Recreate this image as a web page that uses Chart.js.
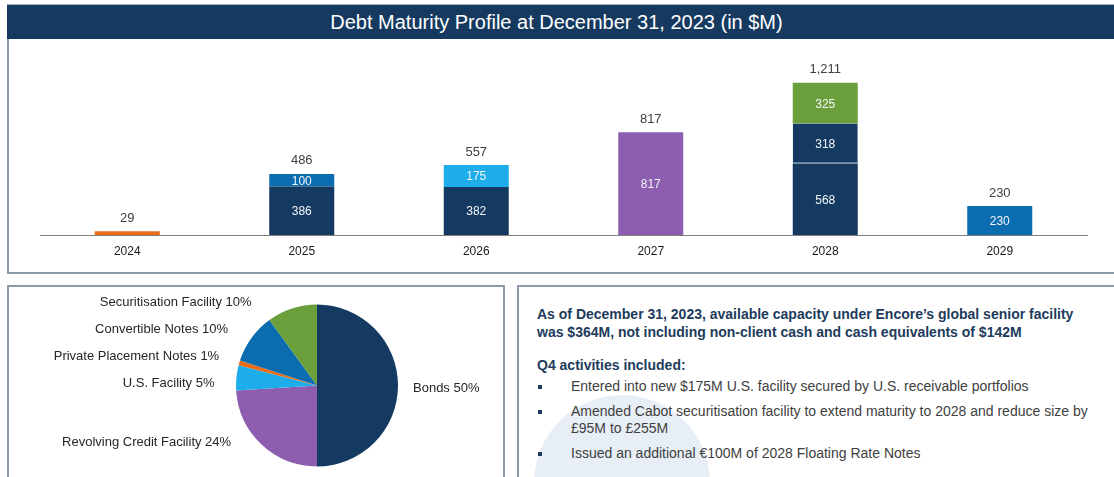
<!DOCTYPE html>
<html>
<head>
<meta charset="utf-8">
<script src="https://cdn.jsdelivr.net/npm/chart.js@4.4.1/dist/chart.umd.min.js"></script>
<style>
  html, body { margin: 0; padding: 0; background: #fff; overflow: hidden; }
  body { position: relative; width: 1114px; height: 477px; font-family: "Liberation Sans", Arial, sans-serif; }
  .title {
    position: absolute; left: 7px; top: 4px; width: 1107px; height: 35px;
    background: #163a5f; border-top: 1px solid #9fb0c0; box-sizing: border-box;
    color: #fff; font-size: 20px; line-height: 34px; text-align: center; text-indent: -8px;
  }
  .panel { position: absolute; border: 2px solid #8d9cab; box-sizing: border-box; }
  #barPanel { left: 7px; top: 39px; width: 1120px; height: 235px; border-top: none; }
  #piePanel { left: 7px; top: 285px; width: 498px; height: 220px; }
  #textPanel { left: 517px; top: 285px; width: 620px; height: 220px; overflow: hidden; }
  .watermark {
    position: absolute; left: 15px; top: 108px; width: 176px; height: 176px;
    border-radius: 50%; background: #e7eef6;
  }
  canvas { position: absolute; }
  #barCanvas { left: 9px; top: 39px; }
  #pieCanvas { left: 8px; top: 286px; }
  .notes { position: absolute; left: 537px; top: 305px; font-size: 14px; color: #404040; white-space: nowrap; }
  .notes .lead { font-weight: bold; color: #1d3b5c; line-height: 18px; }
  .notes .sub { font-weight: bold; color: #1d3b5c; line-height: 18px; margin-top: 15px; }
  .notes ul { list-style: none; margin: 4px 0 0 0; padding: 0; }
  .notes li { position: relative; padding-left: 34px; line-height: 17px; margin-bottom: 8px; }
  .notes li::before {
    content: ""; position: absolute; left: 1px; top: 7px; width: 4px; height: 4px; background: #1d3b5c;
  }
</style>
</head>
<body>
<div class="title">Debt Maturity Profile at December 31, 2023 (in $M)</div>
<div class="panel" id="barPanel"></div>
<div class="panel" id="piePanel"></div>
<div class="panel" id="textPanel"><div class="watermark"></div></div>
<canvas id="barCanvas" width="1100" height="233"></canvas>
<canvas id="pieCanvas" width="496" height="191"></canvas>
<div class="notes">
  <div class="lead">As of December 31, 2023, available capacity under Encore’s global senior facility<br>was $364M, not including non-client cash and cash equivalents of $142M</div>
  <div class="sub">Q4 activities included:</div>
  <ul>
    <li>Entered into new $175M U.S. facility secured by U.S. receivable portfolios</li>
    <li>Amended Cabot securitisation facility to extend maturity to 2028 and reduce size by<br>£95M to £255M</li>
    <li>Issued an additional €100M of 2028 Floating Rate Notes</li>
  </ul>
</div>
<script>
const years = ["2024", "2025", "2026", "2027", "2028", "2029"];
const privatePlacement = [29, null, null, null, null, null];
const bonds = [null, 386, 382, null, 568, null];
const floatingRateNotes = [null, null, null, null, 318, null];
const convertibleNotes = [null, 100, null, null, null, 230];
const usFacility = [null, null, 175, null, null, null];
const revolvingCredit = [null, null, null, 817, null, null];
const securitisation = [null, null, null, null, 325, null];

const mixLabels = ["Bonds", "Revolving Credit Facility", "U.S. Facility", "Private Placement Notes", "Convertible Notes", "Securitisation Facility"];
const mixShares = [50, 24, 5, 1, 10, 10];

const NAVY = "#153a61";
const MID_BLUE = "#0b6cb0";
const LIGHT_BLUE = "#1cadea";
const PURPLE = "#8d5db0";
const GREEN = "#6a9f3b";
const ORANGE = "#e96d17";
const FONT = "'Liberation Sans', Arial, sans-serif";

// pixel nudges for the pie labels, same order as mixLabels
const pieLabelNudges = [[-9, 3], [-14, -20], [2, 8], [3, 0], [-4, 6], [-33, 17]];

Chart.defaults.font.family = FONT;
Chart.defaults.animation = false;

const barValueLabels = {
  id: "barValueLabels",
  afterDatasetsDraw(chart) {
    const { ctx } = chart;
    const totals = [];
    const tops = [];
    ctx.save();
    ctx.textAlign = "center";
    ctx.textBaseline = "middle";
    chart.data.datasets.forEach((dataset, di) => {
      const meta = chart.getDatasetMeta(di);
      meta.data.forEach((bar, i) => {
        const value = dataset.data[i];
        if (value == null) return;
        totals[i] = (totals[i] || 0) + value;
        tops[i] = Math.min(tops[i] ?? Infinity, bar.y);
        if (!dataset.labelInside) return;
        ctx.font = `12px ${FONT}`;
        ctx.fillStyle = "#f2f5f9";
        ctx.fillText(String(value), bar.x, (bar.y + bar.base) / 2 + 1);
      });
    });
    ctx.font = `13px ${FONT}`;
    ctx.fillStyle = "#404040";
    totals.forEach((total, i) => {
      if (total == null) return;
      const x = chart.scales.x.getPixelForValue(i);
      ctx.fillText(total.toLocaleString("en-US"), x, tops[i] - 13);
    });
    ctx.restore();
  },
};

const pieOuterLabels = {
  id: "pieOuterLabels",
  afterDatasetsDraw(chart) {
    const { ctx } = chart;
    const meta = chart.getDatasetMeta(0);
    ctx.save();
    ctx.font = `13px ${FONT}`;
    ctx.fillStyle = "#262626";
    ctx.textBaseline = "middle";
    meta.data.forEach((arc, i) => {
      const mid = (arc.startAngle + arc.endAngle) / 2;
      const radius = arc.outerRadius + 24;
      const [nx, ny] = pieLabelNudges[i];
      ctx.textAlign = Math.cos(mid) >= 0 ? "left" : "right";
      ctx.fillText(`${mixLabels[i]} ${mixShares[i]}%`,
        arc.x + Math.cos(mid) * radius + nx,
        arc.y + Math.sin(mid) * radius + ny);
    });
    ctx.restore();
  },
};

function barSet(label, data, color, labelInside = true, extra = {}) {
  return { label, data, backgroundColor: color, borderWidth: 0, labelInside, ...extra };
}

new Chart(document.getElementById("barCanvas"), {
  type: "bar",
  data: {
    labels: years,
    datasets: [
      barSet("Private Placement Notes", privatePlacement, ORANGE, false),
      barSet("Bonds", bonds, NAVY),
      barSet("Floating Rate Notes", floatingRateNotes, NAVY, true, {
        borderColor: "#6f8fb5",
        borderWidth: { top: 0, left: 0, right: 0, bottom: 1 },
        borderSkipped: false,
      }),
      barSet("Convertible Notes", convertibleNotes, MID_BLUE),
      barSet("U.S. Facility", usFacility, LIGHT_BLUE),
      barSet("Revolving Credit Facility", revolvingCredit, PURPLE),
      barSet("Securitisation Facility", securitisation, GREEN),
    ],
  },
  options: {
    responsive: false,
    categoryPercentage: 1,
    barPercentage: 0.3725,
    layout: { padding: { left: 31, right: 22, top: 20, bottom: 4.6 } },
    scales: {
      x: {
        stacked: true,
        grid: { display: false, drawTicks: false },
        border: { display: true, color: "#7f7f7f", width: 1 },
        ticks: { color: "#1a1a1a", font: { size: 12 }, padding: 9 },
      },
      y: { stacked: true, display: false, min: 0, max: 1400 },
    },
    plugins: { legend: { display: false }, tooltip: { enabled: false } },
  },
  plugins: [barValueLabels],
});

new Chart(document.getElementById("pieCanvas"), {
  type: "pie",
  data: {
    labels: mixLabels,
    datasets: [{
      data: mixShares,
      backgroundColor: [NAVY, PURPLE, LIGHT_BLUE, ORANGE, MID_BLUE, GREEN],
      borderWidth: 0,
    }],
  },
  options: {
    responsive: false,
    layout: { padding: { left: 228, right: 106, top: 18.5, bottom: 10.5 } },
    plugins: { legend: { display: false }, tooltip: { enabled: false } },
  },
  plugins: [pieOuterLabels],
});
</script>
</body>
</html>
